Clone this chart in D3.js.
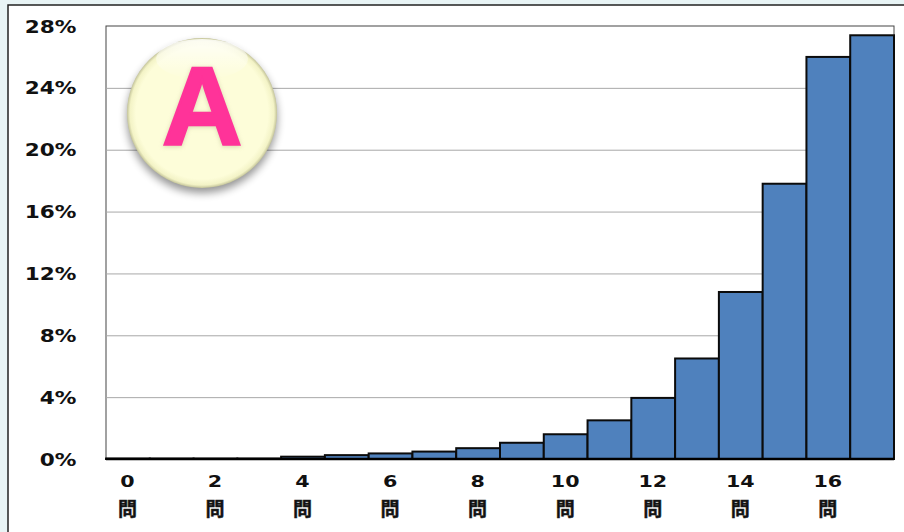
<!DOCTYPE html>
<html lang="ja">
<head>
<meta charset="utf-8">
<script src="https://cdn.jsdelivr.net/npm/d3@7"></script>
<style>
html,body{margin:0;padding:0;background:#e8f4f5;overflow:hidden}
svg{display:block}
text{fill:#111;font-family:"DejaVu Sans",sans-serif;font-weight:700}
</style>
</head>
<body>
<svg id="chart" width="904" height="532"></svg>
<script>
// Share of respondents per number of correct answers, in percent
const questionCounts = d3.range(0, 18);
const shares = [0.03,0.03,0.03,0.03,0.15,0.25,0.36,0.48,0.7,1.05,1.6,2.5,3.95,6.5,10.8,17.8,26.0,27.4];
const percentTicks = [0,4,8,12,16,20,24,28];
const labelledCounts = [0,2,4,6,8,10,12,14,16];
const unitLabel = "問";
const badgeLetter = "A";

const svg = d3.select("#chart");
const margin = {left:106, right:10, top:26, bottom:73};
const W = 904, H = 532;

const x = d3.scaleBand().domain(questionCounts).range([margin.left, W - margin.right]).padding(0);
const y = d3.scaleLinear().domain([0,28]).range([H - margin.bottom, margin.top]);

// Gradients and filters for the round badge
const defs = svg.append("defs");
const face = defs.append("radialGradient").attr("id","badgeFace").attr("cx","50%").attr("cy","50%").attr("r","50%");
[[0,"#fdfdd9"],[0.88,"#fdfdd9"],[0.96,"#f3f3c6"],[1,"#c4c49a"]].forEach(([o,c]) =>
  face.append("stop").attr("offset",o).attr("stop-color",c));
const gloss = defs.append("linearGradient").attr("id","badgeGloss").attr("x1",0).attr("y1",0).attr("x2",0).attr("y2",1);
gloss.append("stop").attr("offset",0).attr("stop-color","#fff").attr("stop-opacity",1);
gloss.append("stop").attr("offset",1).attr("stop-color","#fff").attr("stop-opacity",0);
defs.append("filter").attr("id","soft").attr("x","-30%").attr("y","-30%").attr("width","160%").attr("height","160%")
  .append("feGaussianBlur").attr("stdDeviation",4);
defs.append("filter").attr("id","glow").attr("x","-20%").attr("y","-20%").attr("width","140%").attr("height","140%")
  .append("feGaussianBlur").attr("stdDeviation",2);

// White panel with a dark edge along the top and left
svg.append("rect").attr("x",8).attr("y",5).attr("width",W).attr("height",H)
  .attr("fill","#fff").attr("stroke","#222").attr("stroke-width",1.5);

// Plot frame
const plot = svg.append("g");
plot.append("rect").attr("x",margin.left).attr("y",margin.top)
  .attr("width",W-margin.left-margin.right).attr("height",H-margin.top-margin.bottom)
  .attr("fill","none").attr("stroke","#444").attr("stroke-width",1);

// Horizontal grid lines
plot.append("g").selectAll("line").data(percentTicks.filter(d => d>0 && d<28)).join("line")
  .attr("x1",margin.left).attr("x2",W-margin.right)
  .attr("y1",d=>y(d)+0.5).attr("y2",d=>y(d)+0.5)
  .attr("stroke","#a8a8a8").attr("stroke-width",1);

// Histogram bars
plot.append("g").selectAll("rect").data(shares).join("rect")
  .attr("x",(d,i)=>x(questionCounts[i]))
  .attr("y",d=>y(d))
  .attr("width",x.bandwidth())
  .attr("height",d=>y(0)-y(d))
  .attr("fill","#4f81bd").attr("stroke","#0b0b0b").attr("stroke-width",2);

// Baseline
plot.append("line").attr("x1",margin.left).attr("x2",W-margin.right)
  .attr("y1",y(0)).attr("y2",y(0)).attr("stroke","#000").attr("stroke-width",2.5);

// Percent labels, drawn wide
svg.append("g").selectAll("text").data(percentTicks).join("text")
  .attr("transform",d=>`translate(76.5,${y(d)+6.5}) scale(1.27,1)`)
  .attr("text-anchor","end").attr("font-size",17)
  .text(d=>d+"%");

// Count labels with the unit on a second row
const countLabels = svg.append("g").selectAll("g").data(labelledCounts).join("g")
  .attr("transform",d=>`translate(${x(d)+x.bandwidth()/2-0.5},0)`);
countLabels.append("text")
  .attr("transform","translate(0,487) scale(1.25,1)")
  .attr("text-anchor","middle").attr("font-size",16.5)
  .text(d=>d);
countLabels.append("text")
  .attr("y",515.5).attr("text-anchor","middle").attr("font-size",19)
  .style("font-family",'"Noto Sans CJK JP",sans-serif')
  .style("stroke","#222").style("stroke-width",0.5)
  .text(unitLabel);

// Badge
const cx = 202, cy = 113, r = 75;
const badge = svg.append("g");
badge.append("ellipse").attr("cx",cx).attr("cy",cy+5).attr("rx",r).attr("ry",r)
  .attr("fill","#000").attr("opacity",0.42).attr("filter","url(#soft)");
badge.append("circle").attr("cx",cx).attr("cy",cy).attr("r",r).attr("fill","url(#badgeFace)");
badge.append("ellipse").attr("cx",cx).attr("cy",cy-54).attr("rx",46).attr("ry",20)
  .attr("fill","url(#badgeGloss)").attr("opacity",0.8);
badge.append("text").attr("x",cx).attr("y",146).attr("text-anchor","middle")
  .attr("font-size",111).style("font-family",'"Liberation Sans",sans-serif').style("font-weight",700)
  .style("fill","#b9b98a").style("stroke","#b9b98a").style("stroke-width",3)
  .attr("opacity",0.5).attr("filter","url(#glow)").text(badgeLetter);
badge.append("text").attr("x",cx).attr("y",145).attr("text-anchor","middle")
  .attr("font-size",111).style("font-family",'"Liberation Sans",sans-serif').style("font-weight",700)
  .style("fill","#ff3399").style("stroke","#ff3399").style("stroke-width",2.5).text(badgeLetter);
</script>
</body>
</html>
